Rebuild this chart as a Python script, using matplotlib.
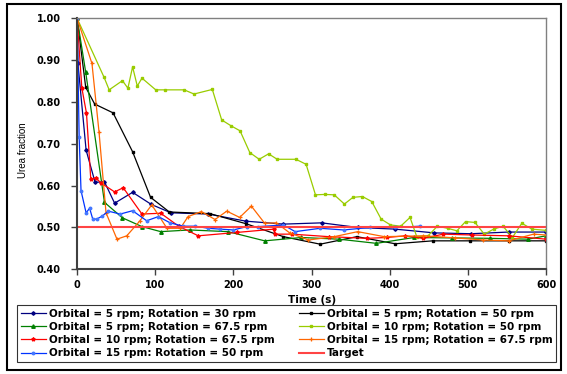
import matplotlib
matplotlib.use("Agg")
import matplotlib.pyplot as plt
from matplotlib.patches import Rectangle
from matplotlib import font_manager

plt.rcParams['font.family'] = ['DejaVu Sans']

narrow = 'Liberation Sans Narrow'
try:
    font_manager.findfont(narrow, fallback_to_default=False)
    ylab_font, ylab_size = narrow, 8
except Exception:
    ylab_font, ylab_size = 'Liberation Sans', 7

# Orbital = 5 rpm; Rotation = 30 rpm
t_o5_r30 = [0, 1, 11.5, 23, 35, 48, 71, 95, 120, 168, 216, 264, 313, 359, 407, 457, 504, 552, 600]
y_o5_r30 = [1.00, 0.893, 0.685, 0.608, 0.609, 0.558, 0.584, 0.555, 0.535, 0.532, 0.515, 0.508, 0.511, 0.500, 0.496, 0.487, 0.485, 0.489, 0.489]

# Orbital = 5 rpm; Rotation = 50 rpm
t_o5_r50 = [0, 11, 22.5, 46, 71, 94, 118, 170, 216, 264, 311, 358, 407, 455, 503, 552, 600]
y_o5_r50 = [1.00, 0.835, 0.795, 0.774, 0.681, 0.572, 0.537, 0.533, 0.509, 0.478, 0.460, 0.478, 0.461, 0.468, 0.468, 0.468, 0.468]

# Orbital = 5 rpm; Rotation = 67.5 rpm
t_o5_r67 = [0, 11, 35, 58, 83, 107, 144, 193, 240, 287, 335, 383, 431, 480, 528, 577, 600]
y_o5_r67 = [1.00, 0.871, 0.560, 0.523, 0.502, 0.490, 0.494, 0.490, 0.468, 0.476, 0.472, 0.462, 0.476, 0.475, 0.474, 0.472, 0.480]

# Orbital = 10 rpm; Rotation = 50 rpm
t_o10_r50 = [0, 34.5, 41, 58, 65, 71, 77, 83, 100.6, 113, 137, 149.6, 173, 185, 197, 208.5, 221, 233,
             245, 256, 280, 293, 305, 317, 329, 342, 353, 365, 377, 389, 401, 414, 426, 434.6, 449,
             461, 474, 486, 497, 509, 521, 533, 545, 557, 569, 582, 600]
y_o10_r50 = [1.00, 0.859, 0.829, 0.851, 0.833, 0.884, 0.838, 0.857, 0.829, 0.829, 0.829, 0.819, 0.830,
             0.757, 0.743, 0.731, 0.679, 0.663, 0.676, 0.663, 0.663, 0.651, 0.578, 0.579, 0.578, 0.556,
             0.572, 0.574, 0.562, 0.520, 0.506, 0.503, 0.524, 0.478, 0.480, 0.503, 0.498, 0.492, 0.514,
             0.512, 0.484, 0.496, 0.503, 0.476, 0.510, 0.496, 0.493]

# Orbital = 10 rpm; Rotation = 67.5 rpm
t_o10_r67 = [0, 6, 12, 17.5, 24, 30, 48, 59, 83, 107, 130, 155, 204, 252, 253, 275, 322, 371, 396,
             420, 443, 468.6, 505, 552, 600]
y_o10_r67 = [1.00, 0.834, 0.773, 0.615, 0.619, 0.607, 0.585, 0.595, 0.532, 0.534, 0.503, 0.480, 0.488,
             0.496, 0.484, 0.484, 0.478, 0.474, 0.476, 0.480, 0.474, 0.484, 0.482, 0.480, 0.472]

# Orbital = 15 rpm; Rotation = 67.5 rpm
t_o15_r67 = [0, 19, 28, 37, 51, 63.5, 80, 95.5, 115, 132, 142, 159, 176.5, 191.5, 208, 223, 240, 255,
             272, 296, 329, 359, 393, 443, 484, 520, 552, 584, 600]
y_o15_r67 = [1.00, 0.892, 0.729, 0.535, 0.472, 0.480, 0.515, 0.554, 0.498, 0.498, 0.526, 0.538, 0.519,
             0.539, 0.524, 0.551, 0.510, 0.511, 0.487, 0.470, 0.478, 0.490, 0.478, 0.480, 0.475, 0.470,
             0.468, 0.484, 0.482]

# Orbital = 15 rpm; Rotation = 50 rpm
t_o15_r50 = [0, 2.6, 5, 11.5, 16, 20, 25, 32, 40, 55, 71, 89, 104, 119, 136, 151, 168, 183, 200, 217,
             232, 264, 279, 311, 341, 375, 407, 439]
y_o15_r50 = [1.00, 0.717, 0.588, 0.535, 0.546, 0.520, 0.520, 0.527, 0.539, 0.532, 0.540, 0.516, 0.526,
             0.511, 0.503, 0.503, 0.498, 0.496, 0.494, 0.502, 0.502, 0.506, 0.490, 0.498, 0.494, 0.500,
             0.500, 0.503]

target_t = [0, 600]
target_y = [0.50, 0.50]

x_ticks = [0, 100, 200, 300, 400, 500, 600]
y_ticks = [0.40, 0.50, 0.60, 0.70, 0.80, 0.90, 1.00]

fig = plt.figure(figsize=(5.67, 3.74), dpi=100)
ax = fig.add_axes([0.136, 0.280, 0.827, 0.671])

l1, = ax.plot(t_o5_r30, y_o5_r30, color='#000080', lw=0.9, marker='D', ms=1.8,
              label='Orbital = 5 rpm; Rotation = 30 rpm')
l2, = ax.plot(t_o5_r50, y_o5_r50, color='#000000', lw=0.9, marker='s', ms=2,
              label='Orbital = 5 rpm; Rotation = 50 rpm')
l3, = ax.plot(t_o5_r67, y_o5_r67, color='#008000', lw=0.9, marker='^', ms=2.5,
              label='Orbital = 5 rpm; Rotation = 67.5 rpm')
l4, = ax.plot(t_o10_r50, y_o10_r50, color='#99CC00', lw=0.9, marker='s', ms=2,
              label='Orbital = 10 rpm; Rotation = 50 rpm')
l5, = ax.plot(t_o10_r67, y_o10_r67, color='#FF0000', lw=0.9, marker='*', ms=2.8,
              label='Orbital = 10 rpm; Rotation = 67.5 rpm')
l6, = ax.plot(t_o15_r67, y_o15_r67, color='#FF6600', lw=0.9, marker='+', ms=2.8, mew=0.9,
              label='Orbital = 15 rpm; Rotation = 67.5 rpm')
l7, = ax.plot(t_o15_r50, y_o15_r50, color='#0033FF', lw=0.9, marker='o', ms=1.8,
              mfc='#4477FF', mec='#4477FF', label='Orbital = 15 rpm: Rotation = 50 rpm')
l8, = ax.plot(target_t, target_y, color='#FF4444', lw=1.5, label='Target')

ax.set_xlim(0, 600)
ax.set_ylim(0.40, 1.00)
ax.set_xticks(x_ticks)
ax.set_yticks(y_ticks)
ax.set_yticklabels(['%.2f' % v for v in y_ticks])
ax.tick_params(labelsize=7, length=4, width=1, color='#404040')
ax.tick_params(axis='y', pad=8)
ax.tick_params(axis='x', pad=4)
for lbl in ax.get_xticklabels() + ax.get_yticklabels():
    lbl.set_fontweight('bold')

for side in ['top', 'right']:
    ax.spines[side].set_color('#808080')
    ax.spines[side].set_linewidth(1)
for side in ['left', 'bottom']:
    ax.spines[side].set_color('#404040')
    ax.spines[side].set_linewidth(1.5)

ax.set_xlabel('Time (s)', fontsize=7.5, fontweight='bold')
ax.xaxis.set_label_coords(0.5, -0.104)
ax.set_ylabel('Urea fraction', fontsize=ylab_size, family=ylab_font)
ax.yaxis.set_label_coords(-0.104, 0.475)

# legend is filled column-wise, reference reads row-wise
handles = [l1, l3, l5, l7, l2, l4, l6, l8]
leg = fig.legend(handles=handles, labels=[h.get_label() for h in handles],
                 loc='upper left', bbox_to_anchor=(0.030, 0.184, 0.951, 0.0), mode='expand',
                 ncol=2, prop={'weight': 'bold', 'size': 7.5}, frameon=True,
                 fancybox=False, edgecolor='#000000', handlelength=2.4, handletextpad=0.3,
                 labelspacing=0.3, borderpad=0.35, borderaxespad=0, columnspacing=0.8)
leg.get_frame().set_linewidth(0.8)

fig.patches.append(Rectangle((0.012, 0.012), 0.978, 0.976, transform=fig.transFigure,
                             fill=False, edgecolor='#000000', lw=1.5))

fig.savefig('out.png', dpi=100)
